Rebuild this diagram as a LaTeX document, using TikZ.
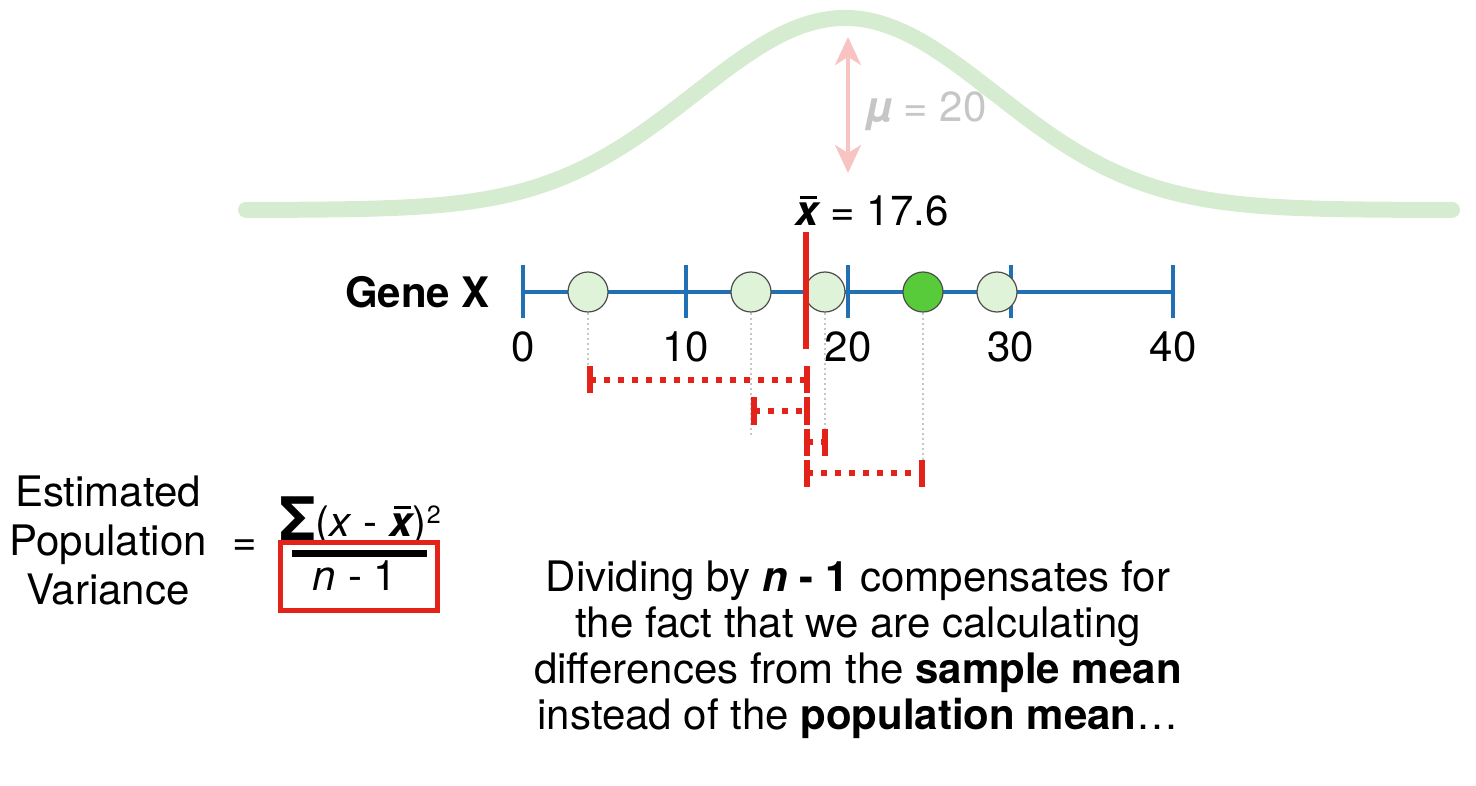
\documentclass[tikz,border=0pt]{standalone}
\usepackage{fontspec}
\setmainfont{TeX Gyre Heros}
\usetikzlibrary{arrows.meta}

\definecolor{curvegreen}{HTML}{D6ECD1}
\definecolor{meanred}{HTML}{E3221A}
\definecolor{axisblue}{HTML}{2270B4}
\definecolor{ptlight}{HTML}{DFF3D8}
\definecolor{ptdark}{HTML}{58CB3B}
\definecolor{mupink}{HTML}{F7C4C2}
\definecolor{mugray}{HTML}{C6C6C6}

% bold italic x with a bar
\newcommand{\xbar}{{\bfseries\itshape\rlap{\hspace{0.1em}\rule[0.64em]{0.4em}{0.07em}}x}}
% big summation sign
\newcommand{\bigsum}{\raisebox{-4pt}{\fontsize{60}{60}\selectfont\bfseries Σ}}

\tikzset{
  big/.style={font=\fontsize{42}{46}\selectfont, inner sep=0pt},
  pt/.style={circle, draw=black!70, line width=1.2pt, minimum size=40pt, inner sep=0pt},
  guide/.style={draw=black!22, line width=2pt, dash pattern=on 2pt off 3pt},
  diff/.style={draw=meanred, line width=6pt, dash pattern=on 6pt off 8pt},
  diffend/.style={draw=meanred, line width=6.5pt},
}

\begin{document}
\begin{tikzpicture}[x=1pt, y=-1pt]
\useasboundingbox (0,0) rectangle (1476,786);

% population curve
\draw[curvegreen, line width=16pt, line cap=round] plot[domain=246:1452, samples=200, smooth]
  (\x, {210-192*exp(-((\x-845)/150)*((\x-845)/150)/2)});

% population mean
\coordinate (mutop) at (848,37);
\coordinate (mubot) at (848,173);
\draw[mupink, line width=4pt, {Stealth[length=28pt,width=26pt,inset=8pt]}-{Stealth[length=28pt,width=26pt,inset=8pt]}] (mutop) -- (mubot);
\node[big, text=mugray, anchor=base west] (mu) at (866,122) {\textbf{\textit{µ}} = 20};

% sample mean label
\node[big, anchor=base] (xbarlab) at (872,226) {\xbar{} = 17.6};

% number line
\foreach \v in {0,10,20,30,40} {
  \coordinate (t\v) at ({523+16.25*\v},292);
}
\draw[axisblue, line width=4pt] (t0) -- (t40);
\foreach \v in {0,10,20,30,40} {
  \draw[axisblue, line width=4pt] ([yshift=27pt]t\v) -- ([yshift=-26pt]t\v);
  \node[big, anchor=base] (lab\v) at ([yshift=-70pt]t\v) {\v};
}
\node[big, anchor=east] (gene) at (490,292) {\textbf{Gene X}};

% samples
\node[pt, fill=ptlight] (p1) at (588,292) {};
\node[pt, fill=ptlight] (p2) at (751,292) {};
\node[pt, fill=ptlight] (p3) at (825,292) {};
\node[pt, fill=ptdark] (p4) at (923,292) {};
\node[pt, fill=ptlight] (p5) at (997,292) {};

% guides down to the differences
\draw[guide] (p1.south) -- ++(0,56);
\draw[guide] (p2.south) -- ++(0,124);
\draw[guide] (p3.south) -- ++(0,118);
\draw[guide] (p4.south) -- ++(0,148);

% sample mean line
\coordinate (mtop) at (806,232);
\coordinate (mbot) at (806,349);
\draw[meanred, line width=6pt] (mtop) -- (mbot);

% differences from the sample mean (left end, right end, height)
\foreach \l/\r/\h [count=\i] in {590/807/380, 754/807/411, 807/825/442, 807/922/473} {
  \coordinate (da\i) at (\l,\h);
  \coordinate (db\i) at (\r,\h);
  \draw[diff] (da\i) -- (db\i);
  \draw[diffend] ([yshift=13.5pt]da\i) -- ([yshift=-13.5pt]da\i);
  \draw[diffend] ([yshift=13.5pt]db\i) -- ([yshift=-13.5pt]db\i);
}

% formula
\node[big, align=center, font=\fontsize{42}{49}\selectfont] (epv) at (108,541) {Estimated\\Population\\Variance};
\node[big] (eq) at (245,548) {=};
\node[big, anchor=base] (num) at (360,536) {\bigsum(\textit{x} - \xbar)\raisebox{13pt}{\fontsize{25}{25}\selectfont 2}};
\coordinate (barl) at (292,553.5);
\coordinate (barr) at (427,553.5);
\draw[line width=7pt] (barl) -- (barr);
\node[big, anchor=base] (den) at (355,590) {\textit{n} - 1};
\node[draw=meanred, line width=5pt, minimum width=157pt, minimum height=68pt] (box) at (359,576.5) {};

% note
\node[big, align=center, anchor=north] (note) at (858,561) {Dividing by \textbf{\textit{n} - 1} compensates for\\the fact that we are calculating\\differences from the \textbf{sample mean}\\instead of the \textbf{population mean}\ldots};
\end{tikzpicture}
\end{document}
